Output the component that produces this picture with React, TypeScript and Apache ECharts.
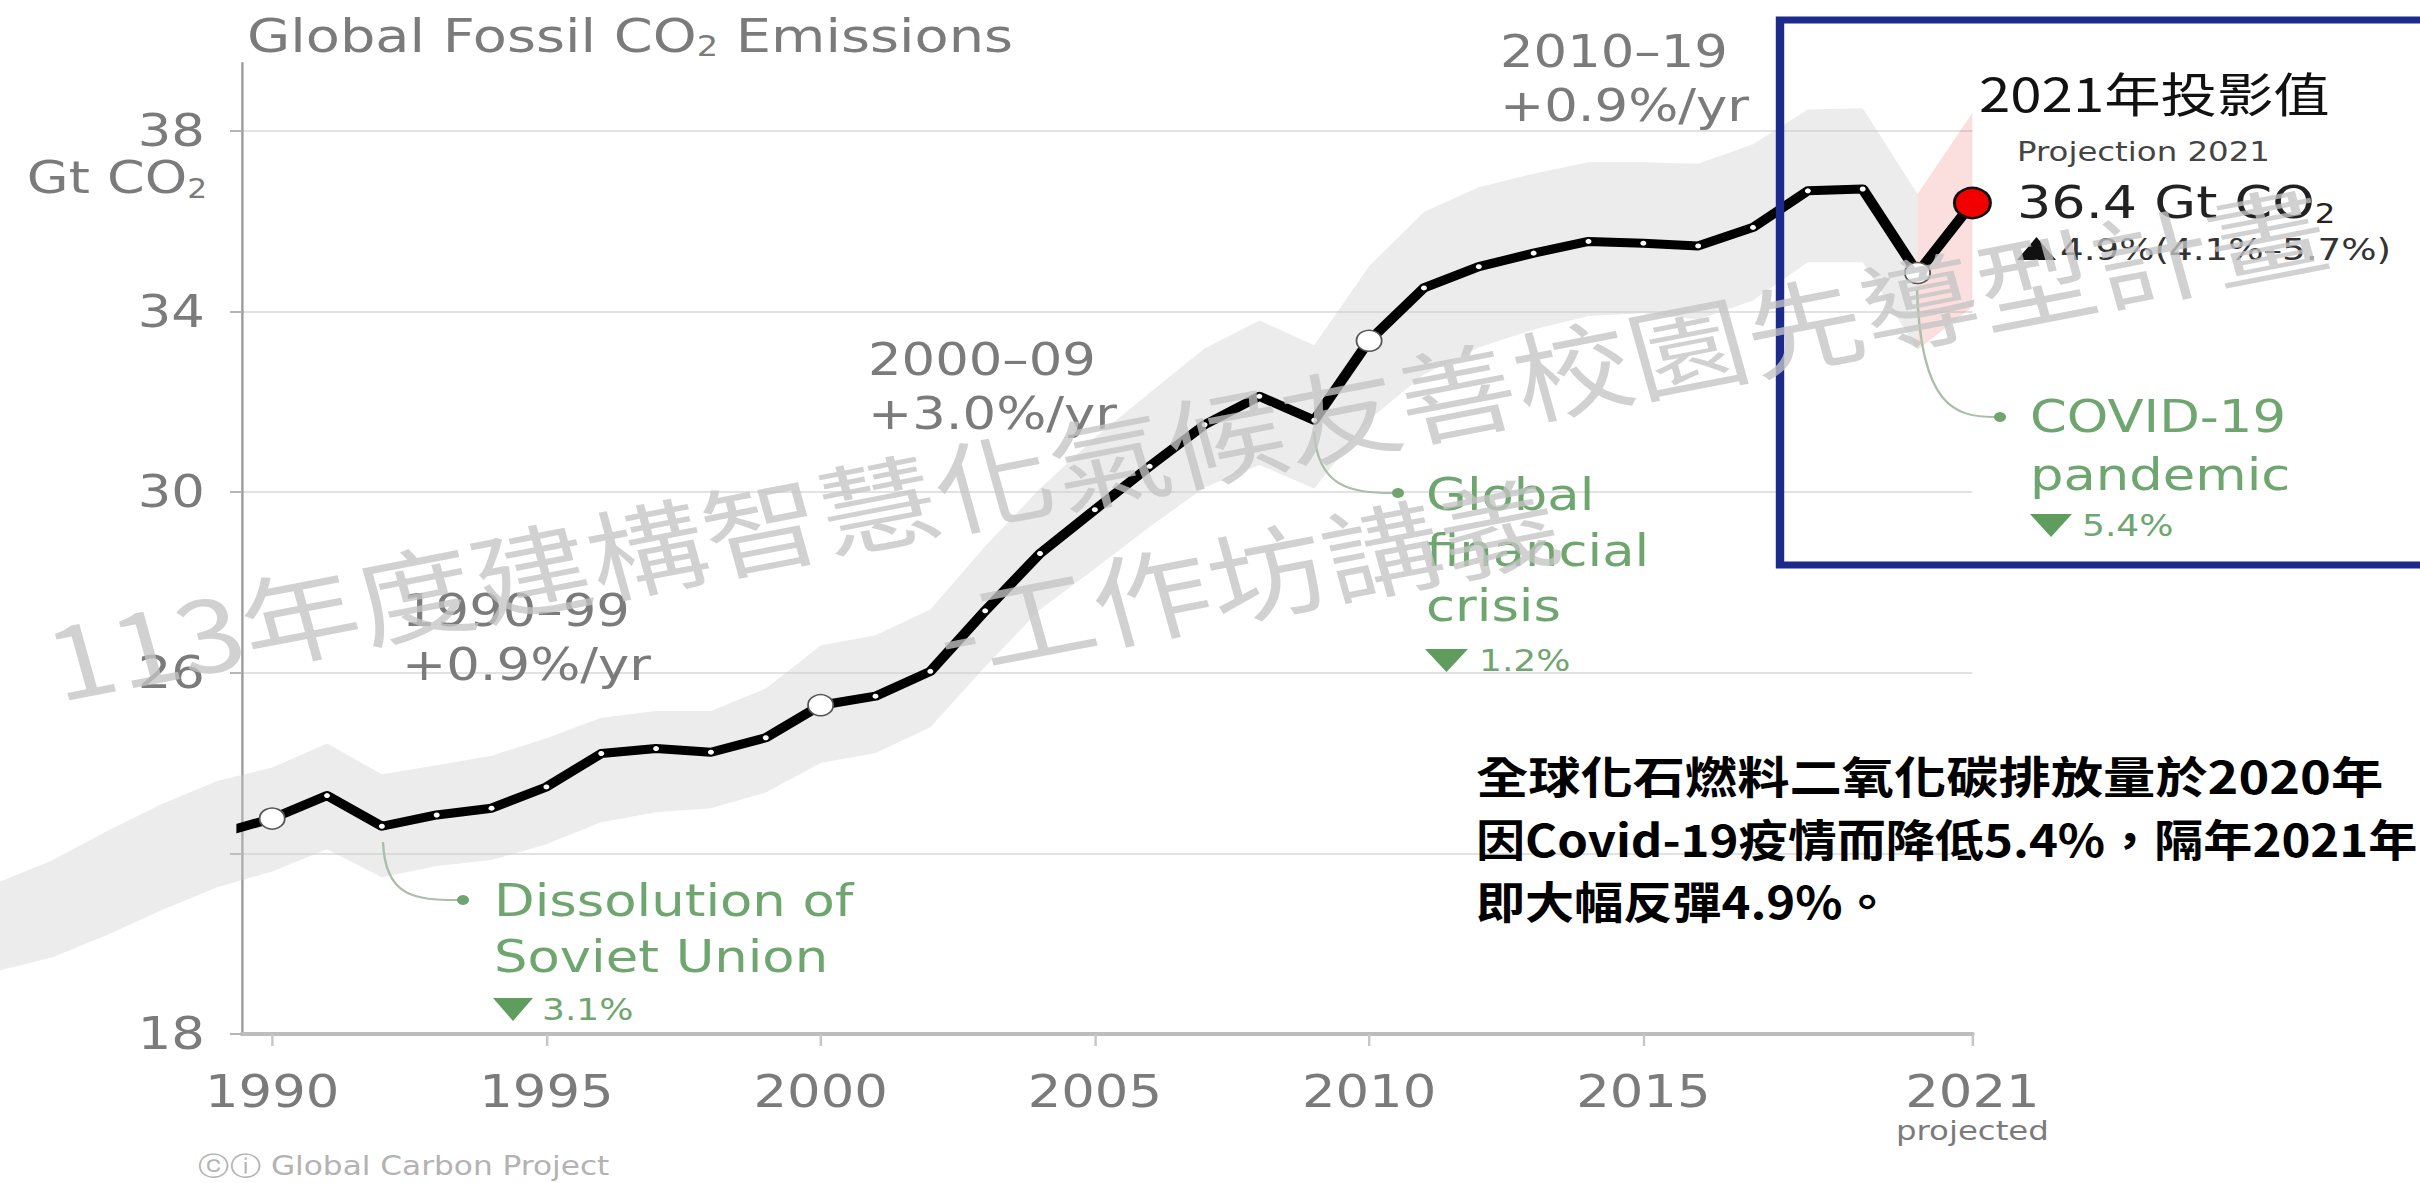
import React, { useEffect, useRef } from 'react';
import * as echarts from 'echarts';

// The reference picture is stretched horizontally; the chart is drawn at W/S and stretched back.
const S = 1.2;
const W = 2420;
const H = 1183;

const years = [1989, 1990, 1991, 1992, 1993, 1994, 1995, 1996, 1997, 1998, 1999, 2000, 2001, 2002, 2003, 2004, 2005, 2006, 2007, 2008, 2009, 2010, 2011, 2012, 2013, 2014, 2015, 2016, 2017, 2018, 2019, 2020, 2021];
const emissions = [22.43, 22.77, 23.28, 22.6, 22.85, 23.0, 23.47, 24.21, 24.32, 24.24, 24.56, 25.28, 25.48, 26.03, 27.37, 28.64, 29.61, 30.57, 31.49, 32.12, 31.59, 33.35, 34.52, 34.99, 35.29, 35.55, 35.51, 35.45, 35.86, 36.67, 36.71, 34.85, 36.4];

const bandYears = [1985, 1986, 1987, 1988, 1989, 1990, 1991, 1992, 1993, 1994, 1995, 1996, 1997, 1998, 1999, 2000, 2001, 2002, 2003, 2004, 2005, 2006, 2007, 2008, 2009, 2010, 2011, 2012, 2013, 2014, 2015, 2016, 2017, 2018, 2019, 2020];
const bandUpper = [21.35, 21.85, 22.5, 23.1, 23.6, 23.9, 24.43, 23.75, 23.95, 24.16, 24.55, 25.0, 25.15, 25.15, 25.65, 26.6, 26.83, 27.4, 28.8, 30.08, 31.2, 32.2, 33.18, 33.8, 33.25, 35.0, 36.2, 36.75, 37.05, 37.3, 37.3, 37.27, 37.7, 38.47, 38.5, 36.6];
const bandLower = [19.4, 19.7, 20.2, 20.75, 21.25, 21.6, 22.09, 21.47, 21.72, 21.85, 22.2, 22.69, 22.91, 23.0, 23.35, 24.0, 24.22, 24.79, 26.13, 27.4, 28.3, 29.23, 30.1, 30.6, 30.08, 31.6, 32.6, 33.2, 33.6, 33.9, 33.96, 33.82, 34.24, 35.09, 35.09, 33.15];

const projYears = [2020, 2021];
const projUpper = [36.6, 38.4];
const projLower = [33.15, 34.1];

const milestoneYears = [1990, 2000, 2010, 2020];
const projectedYear = 2021;

const xTickYears = [1990, 1995, 2000, 2005, 2010, 2015, 2021];
const yTickValues = [18, 22, 26, 30, 34, 38];
const yLabelValues = [18, 26, 30, 34, 38];
const gridValues = [22, 26, 30, 34, 38];

const noteLines = [
  '全球化石燃料二氧化碳排放量於2020年',
  '因Covid-19疫情而降低5.4%，隔年2021年',
  '即大幅反彈4.9%。',
];

const GF = '"DejaVu Sans", "Liberation Sans", Arial, sans-serif';
const CJK = '"Noto Sans CJK TC", "Noto Sans CJK SC", sans-serif';
const GRAY = '#7b7b7b';
const GREEN = '#6fa66f';
const GREEN_DARK = '#5e9d5e';

const X = (fx: number) => fx / S;

function txt(fx: number, fy: number, text: string, o: any = {}) {
  const align = o.align || 'left';
  const va = o.va || 'middle';
  const style: any = {
    text,
    fill: o.fill || GRAY,
    fontSize: o.size || 44,
    fontFamily: o.family || GF,
    fontWeight: o.weight || 'normal',
    textAlign: align,
    textVerticalAlign: va,
    align,
    verticalAlign: va,
  };
  if (o.lh) style.lineHeight = o.lh;
  if (o.rich) style.rich = o.rich;
  const el: any = {
    type: 'text',
    x: X(fx),
    y: fy,
    rotation: o.rotation || 0,
    z: o.z || 10,
    silent: true,
    style,
  };
  if (o.scaleX) el.scaleX = o.scaleX;
  return el;
}

function tri(points: number[][], fill: string) {
  return {
    type: 'polygon',
    z: 10,
    silent: true,
    shape: { points: points.map((p) => [X(p[0]), p[1]]) },
    style: { fill },
  };
}

function curve(p: number[], stroke = '#a9bfa9') {
  return {
    type: 'bezierCurve',
    z: 9,
    silent: true,
    shape: {
      x1: X(p[0]), y1: p[1], cpx1: X(p[2]), cpy1: p[3],
      cpx2: X(p[4]), cpy2: p[5], x2: X(p[6]), y2: p[7],
    },
    style: { stroke, lineWidth: 2, fill: 'none' },
  };
}

function dot(fx: number, fy: number) {
  return { type: 'circle', z: 10, silent: true, shape: { cx: X(fx), cy: fy, r: 5 }, style: { fill: GREEN } };
}

function bandSeries(name: string, xs: number[], lo: number[], hi: number[], fill: string, z: number) {
  return {
    type: 'custom',
    name,
    data: xs.map((y, i) => [y, lo[i], hi[i]]),
    encode: { x: 0, y: [1, 2] },
    clip: false,
    silent: true,
    z,
    renderItem: (params: any, api: any) => {
      if (params.dataIndex !== xs.length - 1) return null;
      const top = xs.map((y, i) => api.coord([y, hi[i]]));
      const bottom = xs.map((y, i) => api.coord([y, lo[i]])).reverse();
      return {
        type: 'polygon',
        silent: true,
        shape: { points: top.concat(bottom) },
        style: { fill, stroke: 'none' },
      };
    },
  };
}

function buildOption() {
  const lineData = years.map((y, i) => {
    const v = emissions[i];
    if (y === projectedYear) {
      return { value: [y, v], symbol: 'circle', symbolSize: 30, itemStyle: { color: '#f20000', borderColor: '#111', borderWidth: 2.5 } };
    }
    if (milestoneYears.indexOf(y) >= 0) {
      return { value: [y, v], symbol: 'circle', symbolSize: 21, itemStyle: { color: '#fff', borderColor: '#555', borderWidth: 1.5 } };
    }
    if (i === 0) return { value: [y, v], symbol: 'none' };
    return { value: [y, v], symbol: 'circle', symbolSize: 5, itemStyle: { color: '#fff', borderWidth: 0 } };
  });

  const subRich = (main: number, lh: number, sub: number, subLh: number, fill: string) => ({
    m: { fontSize: main, fontFamily: GF, fill, lineHeight: lh },
    s: { fontSize: sub, fontFamily: GF, fill, lineHeight: subLh, verticalAlign: 'bottom' },
  });

  const WM = 'rgba(196,196,196,0.78)';
  const noteScale = [0.99, 0.93, 0.93];

  const graphic: any[] = [
    // title
    txt(247, 36, '{m|Global Fossil CO}{s|2}{m| Emissions}', { rich: subRich(46.5, 48, 28, 22, GRAY) }),
    // unit
    txt(207, 178, '{m|Gt CO}{s|2}', { align: 'right', rich: subRich(45, 47, 26, 17, GRAY) }),
    // period growth labels
    txt(402, 584, '1990–99\n+0.9%/yr', { va: 'top', lh: 54 }),
    txt(868, 333, '2000–09\n+3.0%/yr', { va: 'top', lh: 54 }),
    txt(1500, 25, '2010–19\n+0.9%/yr', { va: 'top', lh: 54 }),
    // events
    curve([383, 842, 385, 897, 415, 900, 458, 900]),
    dot(463, 900),
    txt(494, 873, 'Dissolution of\nSoviet Union', { va: 'top', lh: 56, fill: GREEN }),
    tri([[493, 998], [533, 998], [513, 1021]], GREEN_DARK),
    txt(542, 1010, '3.1%', { size: 30, fill: GREEN }),

    curve([1314, 432, 1318, 487, 1350, 493, 1393, 493]),
    dot(1398, 493),
    txt(1426, 467, 'Global\nfinancial\ncrisis', { va: 'top', lh: 55.5, fill: GREEN }),
    tri([[1425, 649], [1468, 649], [1446.5, 672]], GREEN_DARK),
    txt(1479, 661, '1.2%', { size: 30, fill: GREEN }),

    curve([1917, 290, 1921, 407, 1955, 417, 1995, 417]),
    dot(2000, 417),
    txt(2030, 388, 'COVID-19\npandemic', { va: 'top', lh: 58, fill: GREEN }),
    tri([[2030, 514], [2072, 514], [2051, 537]], GREEN_DARK),
    txt(2082, 526, '5.4%', { size: 30, fill: GREEN }),

    // footer
    txt(198, 1166, 'ⓒⓘ Global Carbon Project', { size: 26, fill: '#b3b3b3' }),

    // projection box
    {
      type: 'rect', z: 20, silent: true,
      shape: { x: X(1780), y: 20, width: X(2450) - X(1780), height: 545 },
      style: { fill: 'none', stroke: '#1c2a8c', lineWidth: 7 },
    },
    txt(1979, 92, '2021年投影值', { family: CJK, size: 47, fill: '#111', z: 21 }),
    txt(2017, 151, 'Projection 2021', { size: 27, fill: '#444', z: 21 }),
    txt(2017, 203, '{m|36.4 Gt CO}{s|2}', { z: 21, rich: subRich(45, 47, 27, 17, '#222') }),
    tri([[2017, 260], [2056, 260], [2036.5, 237]], '#111'),
    txt(2060, 249, '4.9%(4.1%–5.7%)', { size: 31, fill: '#333', z: 21 }),

    // explanatory note
    ...noteLines.map((line, i) =>
      txt(1476, 775 + i * 62.5, line, {
        family: CJK, size: 44, weight: 'bold', fill: '#000', scaleX: noteScale[i], z: 21,
      })
    ),

    // watermark
    txt(1185, 440, '113年度建構智慧化氣候友善校園先導型計畫', {
      family: CJK, size: 99, fill: WM, align: 'center', rotation: 0.228, z: 50,
    }),
    txt(1245, 572, '-工作坊講義', {
      family: CJK, size: 99, fill: WM, align: 'center', rotation: 0.228, z: 50,
    }),
  ];

  return {
    animation: false,
    backgroundColor: '#ffffff',
    grid: {
      left: X(242),
      right: X(W) - X(1972),
      top: 63,
      bottom: H - 1034,
      containLabel: false,
      outerBoundsMode: 'none',
    },
    xAxis: {
      type: 'value',
      min: 1989.45,
      max: 2021,
      axisLine: { show: true, onZero: false, lineStyle: { color: '#bdbdbd', width: 4 } },
      axisTick: { show: true, customValues: xTickYears, length: 12, lineStyle: { color: '#c6c6c6', width: 2 } },
      axisLabel: {
        customValues: xTickYears,
        formatter: (v: number) => (v === projectedYear ? v + '\n{p|projected}' : String(v)),
        color: GRAY,
        fontSize: 44,
        fontFamily: GF,
        lineHeight: 46,
        margin: 35,
        rich: { p: { fontSize: 27, lineHeight: 30, color: GRAY, fontFamily: GF } },
      },
      splitLine: { show: false },
    },
    yAxis: {
      type: 'value',
      min: 18,
      max: 39.5,
      axisLine: { show: true, onZero: false, lineStyle: { color: '#9c9c9c', width: 2 } },
      axisTick: { show: true, customValues: yTickValues, length: 10, lineStyle: { color: '#b5b5b5', width: 2 } },
      axisLabel: { customValues: yLabelValues, color: GRAY, fontSize: 44, fontFamily: GF, margin: 31 },
      splitLine: { show: false },
    },
    series: [
      {
        type: 'line',
        name: 'gridlines',
        data: [],
        silent: true,
        z: 0,
        markLine: {
          silent: true,
          z: 0,
          symbol: ['none', 'none'],
          label: { show: false },
          lineStyle: { color: '#e2e2e2', width: 2, type: 'solid' },
          data: gridValues.map((v) => ({ yAxis: v })),
          animation: false,
        },
      },
      bandSeries('uncertainty', bandYears, bandLower, bandUpper, 'rgba(205,205,205,0.38)', 1),
      bandSeries('projection range', projYears, projLower, projUpper, 'rgba(236,110,110,0.22)', 2),
      {
        type: 'line',
        name: 'Global fossil CO2 emissions',
        data: lineData,
        lineStyle: { color: '#000', width: 9, join: 'round' },
        itemStyle: { color: '#000' },
        clip: false,
        silent: true,
        emphasis: { disabled: true },
        z: 3,
      },
    ],
    graphic,
  };
}

export default function App() {
  const ref = useRef<HTMLDivElement>(null);
  useEffect(() => {
    if (!ref.current) return;
    const chart = echarts.init(ref.current, null, { renderer: 'svg' });
    chart.setOption(buildOption() as any);
    return () => chart.dispose();
  }, []);
  return (
    <div
      ref={ref}
      style={{
        position: 'fixed',
        left: 0,
        top: 0,
        width: W / S + 'px',
        height: H + 'px',
        transform: `scaleX(${S})`,
        transformOrigin: '0 0',
        background: '#fff',
      }}
    />
  );
}
